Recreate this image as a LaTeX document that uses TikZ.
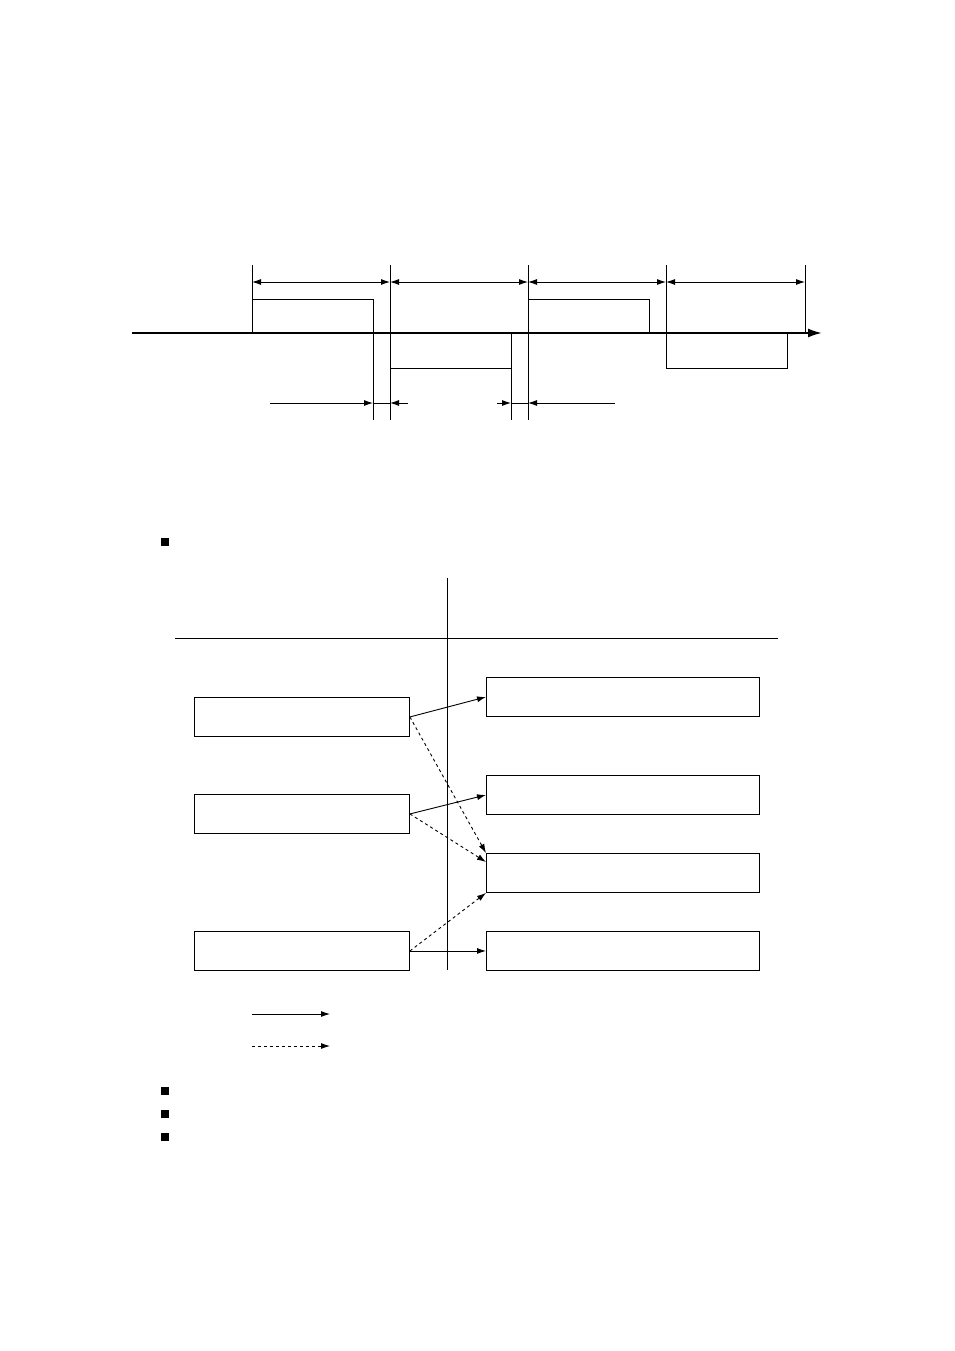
\documentclass[tikz,border=0pt]{standalone}
\usetikzlibrary{arrows.meta}
\begin{document}
\begin{tikzpicture}[x=1pt,y=-1pt,line width=0.9pt,
  arr/.style={-{Latex[length=9pt,width=6pt]}},
  darr/.style={{Latex[length=9pt,width=6pt]}-{Latex[length=9pt,width=6pt]}},
  box/.style={draw,minimum width=215pt,minimum height=39pt,inner sep=0pt,anchor=north west},
  rbox/.style={draw,minimum width=273pt,minimum height=39pt,inner sep=0pt,anchor=north west},
  bul/.style={fill=black,minimum size=8pt,inner sep=0pt}]
\useasboundingbox (0,0) rectangle (954,1351);
% timing axis
\draw[line width=2pt,-{Latex[length=14pt,width=9pt]}] (132,333) -- (822,333);
\draw (252,265)--(252,333) (390,265)--(390,420) (528,265)--(528,420) (666,265)--(666,368) (805,265)--(805,333);
\draw[darr] (252,282)--(390,282);
\draw[darr] (390,282)--(528,282);
\draw[darr] (528,282)--(666,282);
\draw[darr] (666,282)--(805,282);
\draw (252,333)--(252,299)--(373,299)--(373,420);
\draw (390,368)--(511,368)--(511,333);
\draw (511,333)--(511,420);
\draw (528,299)--(649,299)--(649,333);
\draw (666,368)--(787,368)--(787,333);
\draw[arr] (270,403)--(373,403);
\draw (373,403)--(390,403);
\draw[arr] (408,403)--(390,403);
\draw[arr] (497,403)--(511,403);
\draw (511,403)--(528,403);
\draw[arr] (615,403)--(528,403);
% bullets
\node[bul] (b1) at (165,542) {};
\node[bul] (b2) at (165,1091) {};
\node[bul] (b3) at (165,1114) {};
\node[bul] (b4) at (165,1137) {};
% chart
\draw (447,578)--(447,970);
\draw (175,638)--(778,638);
\node[box] (L1) at (194,697) {};
\node[box] (L2) at (194,794) {};
\node[box] (L3) at (194,931) {};
\node[rbox] (R1) at (486,677) {};
\node[rbox] (R2) at (486,775) {};
\node[rbox] (R3) at (486,853) {};
\node[rbox] (R4) at (486,931) {};
\draw[arr] (L1.east)--(R1.west);
\draw[arr,dashed] (L1.east)--(R3.north west);
\draw[arr] (L2.east)--(R2.west);
\draw[arr,dashed] (L2.east)--([yshift=-9pt]R3.north west);
\draw[arr,dashed] (L3.east)--(R3.south west);
\draw[arr] (L3.east)--(R4.west);
\coordinate (a1) at (252,1014); \coordinate (a2) at (330,1014);
\coordinate (c1) at (252,1046); \coordinate (c2) at (330,1046);
\draw[arr] (a1)--(a2);
\draw[arr,dashed] (c1)--(c2);
\end{tikzpicture}
\end{document}
